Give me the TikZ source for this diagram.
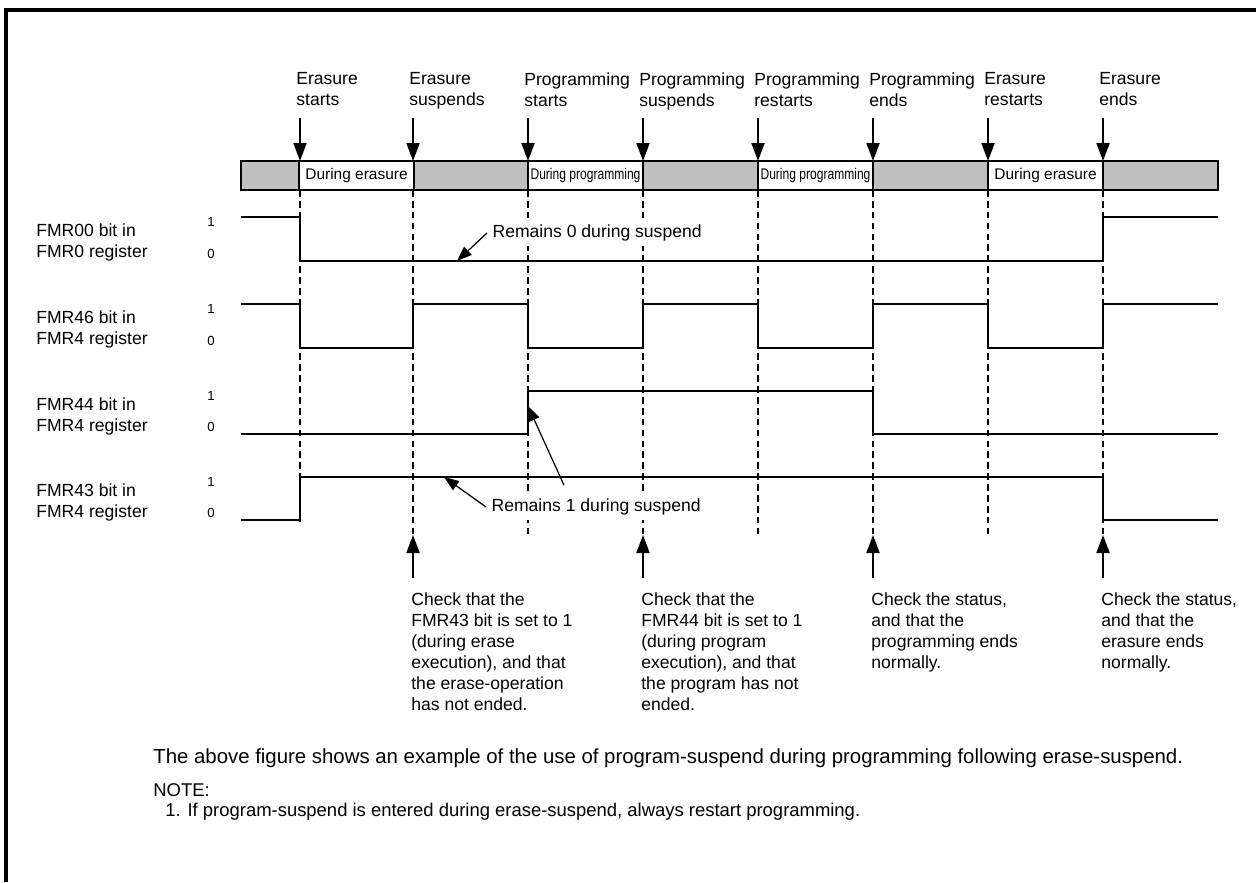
\documentclass[tikz,border=0pt]{standalone}
\usepackage{fontspec}
\setmainfont{Liberation Sans}
\usepackage{graphicx}
\usetikzlibrary{arrows.meta}

\newcommand{\squeezed}[1]{\scalebox{0.78}[1]{#1}}

\begin{document}
\begin{tikzpicture}[x=0.02cm, y=-0.02cm,
  txt/.style={inner sep=0pt, align=left, anchor=north west, font=\fontsize{10}{12}\selectfont},
  lvl/.style={inner sep=0pt, font=\fontsize{7.5}{9}\selectfont},
  busy/.style={draw, line width=0.9pt, fill=white, minimum width=2.3cm, minimum height=0.58cm, inner sep=0pt, font=\fontsize{8.8}{10}\selectfont},
  evarrow/.style={line width=1.1pt, -{Triangle[width=0.26cm,length=0.36cm]}},
  callout/.style={line width=0.7pt, -{Triangle[width=0.22cm,length=0.3cm]}},
  evline/.style={line width=1.4pt, dash pattern=on 3.8pt off 2.4pt},
  sig/.style={line width=0.85pt}]
  \useasboundingbox (0,0) rectangle (1256,882);
  \draw[line width=2pt] (6,882) -- (6,10) -- (1256,10);

  \draw[line width=0.9pt, fill=black!25] (241,161) rectangle (1218,190);
  \foreach \x/\txt [count=\i] in {356.5/During erasure, 585.5/\squeezed{During programming}, 815.5/\squeezed{During programming}, 1045.5/During erasure}
    \node[busy] (busy\i) at (\x,175.5) {\txt};

  \foreach \x/\txt [count=\i] in {300/{Erasure\\starts}, 413/{Erasure\\suspends}, 528/{Programming\\starts}, 643/{Programming\\suspends}, 758/{Programming\\restarts}, 873/{Programming\\ends}, 988/{Erasure\\restarts}, 1103/{Erasure\\ends}} {
    \node[txt] (ev\i) at (\x-4,72) {\txt};
    \coordinate (top\i) at (\x,118);
    \coordinate (bar\i) at (\x,161);
    \draw[evarrow] (top\i) -- (bar\i);
  }

  \foreach \x/\e in {300/522, 413/535, 528/535, 643/535, 758/535, 873/535, 988/535, 1103/535}
    \draw[evline] (\x,190) -- (\x,\e);

  \draw[sig] (241,217) -- (300,217) -- (300,261) -- (1103,261) -- (1103,217) -- (1218,217);
  \draw[sig] (241,304) -- (300,304) -- (300,348) -- (413,348) -- (413,304) -- (528,304) -- (528,348) -- (643,348) -- (643,304) -- (758,304) -- (758,348) -- (873,348) -- (873,304) -- (988,304) -- (988,348) -- (1103,348) -- (1103,304) -- (1218,304);
  \draw[sig] (241,434) -- (528,434) -- (528,391) -- (873,391) -- (873,434) -- (1218,434);
  \draw[sig] (241,520) -- (300,520) -- (300,477) -- (1103,477) -- (1103,520) -- (1218,520);

  \foreach \hi/\lo/\bitname/\regname [count=\i] in {217/261/FMR00/FMR0, 304/348/FMR46/FMR4, 391/434/FMR44/FMR4, 477/520/FMR43/FMR4} {
    \node[txt] (sig\i) at (36,\hi+6) {\bitname\ bit in\\\regname\ register};
    \node[lvl] (one\i) at (211,\hi+5) {1};
    \node[lvl] (zero\i) at (211,\lo-7) {0};
  }

  \node[txt, anchor=west, inner sep=3pt, fill=white] (rem0) at (487,233) {Remains 0 during suspend};
  \coordinate (rem0tip) at (457,261);
  \draw[callout] (rem0.west) -- (rem0tip);

  \node[txt, anchor=west, inner sep=3pt, fill=white] (rem1) at (486,507) {Remains 1 during suspend};
  \coordinate (rem1tipa) at (444,477);
  \coordinate (rem1tipb) at (528,406);
  \draw[callout] (rem1.west) -- (rem1tipa);
  \draw[callout] ([xshift=1.56cm,yshift=0.16cm]rem1.north west) -- (rem1tipb);

  \foreach \x/\txt [count=\i] in {413/{Check that the\\FMR43 bit is set to 1\\(during erase\\execution), and that\\the erase-operation\\has not ended.}, 643/{Check that the\\FMR44 bit is set to 1\\(during program\\execution), and that\\the program has not\\ended.}, 873/{Check the status,\\and that the\\programming ends\\normally.}, 1103/{Check the status,\\and that the\\erasure ends\\normally.}} {
    \coordinate (up\i) at (\x,535);
    \node[txt] (chk\i) at (\x-2,592) {\txt};
    \draw[evarrow, shorten <=0.28cm] (chk\i.north -| up\i) -- (up\i);
  }

  \node[txt, anchor=west, font=\fontsize{11.6}{13}\selectfont] (caption) at (153,758) {The above figure shows an example of the use of program-suspend during programming following erase-suspend.};
  \node[txt, anchor=west, font=\fontsize{10.5}{12}\selectfont] (notehead) at (153,790) {NOTE:};
  \node[txt, anchor=west, font=\fontsize{10.5}{12}\selectfont] (note1) at (165,812) {1. If program-suspend is entered during erase-suspend, always restart programming.};
\end{tikzpicture}
\end{document}
